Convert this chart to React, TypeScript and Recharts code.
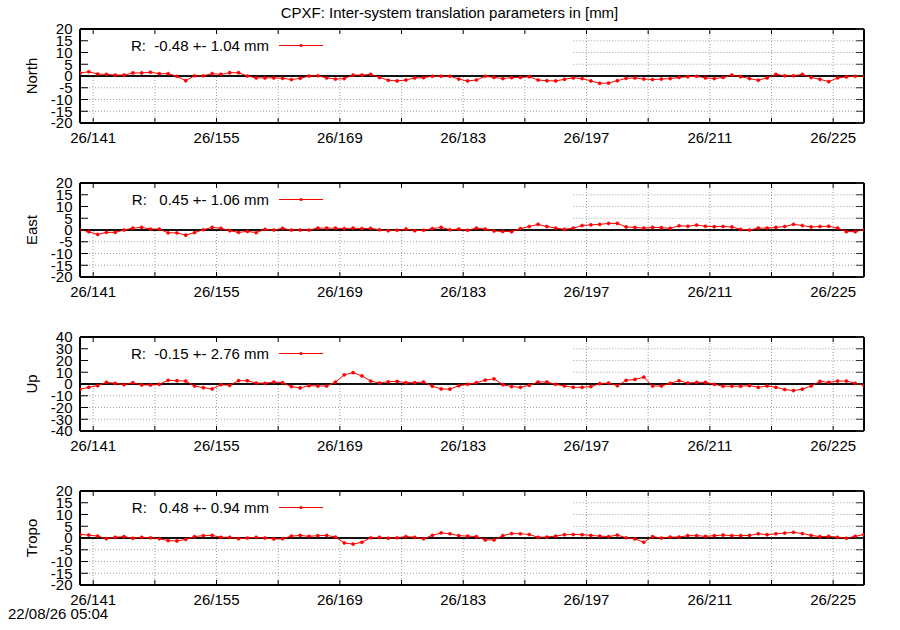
import React from 'react';
import { LineChart, Line, XAxis, YAxis, ReferenceLine, Legend } from 'recharts';

const FONT = '"Liberation Sans", Arial, Helvetica, sans-serif';
const RED = '#ff0000';
const GRID = '#a0a0a0';

// epochs (day of year, noon)
const DAYS = [
  139.5, 140.5, 141.5, 142.5, 143.5, 144.5, 145.5, 146.5, 147.5, 148.5,
  149.5, 150.5, 151.5, 152.5, 153.5, 154.5, 155.5, 156.5, 157.5, 158.5,
  159.5, 160.5, 161.5, 162.5, 163.5, 164.5, 165.5, 166.5, 167.5, 168.5,
  169.5, 170.5, 171.5, 172.5, 173.5, 174.5, 175.5, 176.5, 177.5, 178.5,
  179.5, 180.5, 181.5, 182.5, 183.5, 184.5, 185.5, 186.5, 187.5, 188.5,
  189.5, 190.5, 191.5, 192.5, 193.5, 194.5, 195.5, 196.5, 197.5, 198.5,
  199.5, 200.5, 201.5, 202.5, 203.5, 204.5, 205.5, 206.5, 207.5, 208.5,
  209.5, 210.5, 211.5, 212.5, 213.5, 214.5, 215.5, 216.5, 217.5, 218.5,
  219.5, 220.5, 221.5, 222.5, 223.5, 224.5, 225.5, 226.5, 227.5, 228.5,
];

const X_MIN = 139.5;
const X_MAX = 228.5;
const X_TICKS = [141, 148, 155, 162, 169, 176, 183, 190, 197, 204, 211, 218, 225];
const MAJOR_DAYS = [141, 155, 169, 183, 197, 211, 225];
const MAJOR_LABELS = ['26/141', '26/155', '26/169', '26/183', '26/197', '26/211', '26/225'];
const CLEAR_X = 195.5; // left part above zero is free of grid (key area)

const Y_TICKS_20 = [-20, -15, -10, -5, 0, 5, 10, 15, 20];
const Y_TICKS_40 = [-40, -30, -20, -10, 0, 10, 20, 30, 40];

const NORTH = [
  1.3, 1.8, 0.85, 0.7, 0.4, 0.4, 1.3, 1.3, 1.6, 1.0,
  1.0, -0.1, -2.0, 0.1, 0.1, 1.0, 0.7, 1.4, 1.4, 0.0,
  -0.8, -0.8, -0.8, -1.0, -1.5, -1.0, 0.0, 0.1, -0.8, -1.3,
  -1.1, 0.4, 0.4, 0.7, -0.6, -1.8, -2.1, -1.7, -0.8, -0.7,
  -0.1, -0.1, -0.1, -1.3, -2.1, -1.7, -0.1, -0.6, -1.1, -0.7,
  -0.6, -0.3, -1.7, -2.0, -2.1, -1.4, -0.8, -1.1, -2.1, -3.1,
  -3.0, -2.0, -1.0, -0.8, -1.3, -1.5, -1.3, -1.1, -0.6, -0.3,
  -0.1, -0.8, -1.1, -0.6, 0.4, -0.3, -1.1, -1.8, -0.8, 0.7,
  0.1, 0.1, 0.7, -0.6, -1.4, -2.4, -0.8, -0.4, -0.1, -0.1,
];

const EAST = [
  0.1, -0.7, -1.9, -1.0, -1.0, 0.0, 0.8, 1.1, 0.4, 0.4,
  -1.2, -1.2, -2.2, -1.1, 0.1, 1.1, 0.7, -0.3, -1.0, -0.6,
  -1.1, 0.3, 0.0, 0.7, 0.0, 0.0, 0.0, 0.8, 0.8, 0.8,
  0.6, 0.8, 0.6, 0.7, 0.1, -0.3, -0.1, 0.4, -0.3, -0.1,
  0.6, 1.1, 0.1, 0.4, -0.1, 0.8, 0.4, -0.4, -0.6, -0.7,
  0.6, 1.5, 2.4, 1.5, 0.8, 0.3, 0.8, 1.9, 2.2, 2.4,
  2.8, 2.8, 1.3, 1.1, 0.8, 1.1, 1.0, 0.7, 1.8, 1.6,
  2.1, 1.6, 1.4, 1.5, 1.3, 0.3, 0.0, 0.8, 0.8, 1.1,
  1.5, 2.4, 1.9, 1.3, 1.5, 1.6, 0.8, -0.7, -0.7, 0.1,
];

const UP = [
  -4.5, -2.8, -1.4, 1.4, 0.6, -0.6, 1.1, -0.8, -0.8, -0.3,
  3.1, 2.8, 2.5, -1.7, -3.1, -4.2, -0.6, -1.1, 2.8, 2.8,
  0.8, 0.6, 1.7, 1.1, -2.2, -3.3, -1.4, -1.7, -1.7, 1.7,
  7.8, 9.7, 6.9, 2.5, 0.8, 1.9, 2.2, 1.1, 1.1, 1.7,
  -1.9, -4.2, -4.4, -1.4, -0.3, 1.1, 3.3, 4.4, -0.6, -2.2,
  -2.8, -1.1, 1.7, 1.7, -0.3, -1.7, -2.8, -2.8, -2.2, 0.3,
  0.8, -1.4, 3.1, 3.9, 5.8, -1.7, -1.7, 0.6, 2.8, 0.8,
  1.4, 1.4, -0.3, -1.9, -1.9, -1.9, -1.4, -2.8, -1.7, -2.8,
  -4.7, -5.6, -4.4, -1.7, 2.2, 1.4, 2.5, 2.5, 0.6, -1.1,
];

const TROPO = [
  1.5, 1.25, 0.8, -0.3, 0.3, 0.6, -0.1, 0.3, 0.1, -0.3,
  -1.1, -1.25, -0.6, 0.6, 1.0, 1.1, 0.3, 0.3, -0.3, 0.0,
  0.3, 0.0, -0.4, -0.3, 0.8, 1.1, 0.7, 1.0, 1.1, 0.4,
  -2.1, -2.6, -1.8, 0.1, 0.3, -0.1, 0.1, 0.6, 0.3, -0.3,
  1.1, 2.2, 1.8, 1.0, 0.8, 0.6, -0.8, -0.8, 1.0, 1.9,
  1.8, 1.5, 0.3, 0.4, 0.8, 1.4, 1.5, 1.4, 1.1, 0.8,
  0.6, 1.25, 0.1, -0.4, -1.8, 0.6, 0.0, 0.4, 0.4, 1.0,
  1.0, 0.7, 1.0, 1.25, 1.0, 1.0, 1.1, 1.8, 1.4, 1.8,
  2.1, 2.4, 1.9, 1.1, 0.6, 0.7, 0.3, -0.1, 0.7, 1.5,
];

const PANEL_NAMES = ['North', 'East', 'Up', 'Tropo'];
const PANEL_STATS = [
  'R:  -0.48 +- 1.04 mm',
  'R:   0.45 +- 1.06 mm',
  'R:  -0.15 +- 2.76 mm',
  'R:   0.48 +- 0.94 mm',
];
const PANEL_VALUES = [NORTH, EAST, UP, TROPO];
const PANEL_TICKS = [Y_TICKS_20, Y_TICKS_20, Y_TICKS_40, Y_TICKS_20];
const PANEL_TOPS = [29, 183, 337, 491];

const TITLE = 'CPXF: Inter-system translation parameters in [mm]';
const STAMP = '22/08/26 05:04';

// layout of each panel chart
const CHART_W = 900;
const CHART_H = 154;
const PLOT_TOP = 10;
const PLOT_H = 94;
const PLOT_BOTTOM = PLOT_TOP + PLOT_H;
const PLOT_LEFT = 80;
const PLOT_RIGHT = 864;
const LEG_Y = 26.5;

const XTick = (props: any) => {
  const { x, payload } = props;
  const idx = MAJOR_DAYS.indexOf(payload.value);
  return (
    <g>
      <line x1={x} x2={x} y1={PLOT_BOTTOM} y2={PLOT_BOTTOM - 5} stroke="#000" strokeWidth={1} />
      <line x1={x} x2={x} y1={PLOT_TOP} y2={PLOT_TOP + 5} stroke="#000" strokeWidth={1} />
      {idx >= 0 && (
        <text x={x} y={PLOT_BOTTOM + 20} textAnchor="middle" fontSize={15} fontFamily={FONT} fill="#000">
          {MAJOR_LABELS[idx]}
        </text>
      )}
    </g>
  );
};

const YTick = (props: any) => {
  const { y, payload } = props;
  return (
    <g>
      <line x1={PLOT_LEFT} x2={PLOT_LEFT + 8} y1={y} y2={y} stroke="#000" strokeWidth={1} />
      <line x1={PLOT_RIGHT} x2={PLOT_RIGHT - 8} y1={y} y2={y} stroke="#333" strokeWidth={1} />
      <text x={72.5} y={y + 5.3} textAnchor="end" fontSize={15} fontFamily={FONT} fill="#000">
        {payload.value}
      </text>
    </g>
  );
};

const Panel = ({ index }: { index: number }) => {
  const name = PANEL_NAMES[index];
  const values = PANEL_VALUES[index];
  const ticks = PANEL_TICKS[index];
  const stat = PANEL_STATS[index];
  const yMin = ticks[0];
  const yMax = ticks[ticks.length - 1];
  const rows = DAYS.map((d, i) => ({ day: d, v: values[i] }));
  const hGrid = ticks.filter((t) => t !== yMin && t !== yMax && t !== 0);

  return (
    <div style={{ position: 'absolute', left: 0, top: PANEL_TOPS[index] - PLOT_TOP, width: CHART_W, height: CHART_H }}>
      <LineChart width={CHART_W} height={CHART_H} data={rows} margin={{ top: PLOT_TOP - 1, right: 0, bottom: 0, left: 0 }}>
        <XAxis
          dataKey="day"
          type="number"
          domain={[X_MIN, X_MAX]}
          ticks={X_TICKS}
          interval={0}
          allowDataOverflow
          height={CHART_H - PLOT_BOTTOM}
          axisLine={{ stroke: '#000', strokeWidth: 2 }}
          tickLine={false}
          tick={<XTick />}
        />
        <XAxis
          xAxisId="top"
          orientation="top"
          type="number"
          domain={[X_MIN, X_MAX]}
          height={1}
          axisLine={{ stroke: '#000', strokeWidth: 2 }}
          tickLine={false}
          tick={false}
        />
        <YAxis
          type="number"
          domain={[yMin, yMax]}
          ticks={ticks}
          interval={0}
          allowDataOverflow
          width={PLOT_LEFT}
          axisLine={{ stroke: '#000', strokeWidth: 2 }}
          tickLine={false}
          tick={<YTick />}
          label={{
            value: name,
            angle: -90,
            position: 'center',
            dx: -8,
            fontSize: 15,
            fill: '#000',
            fontFamily: FONT,
          }}
        />
        <YAxis
          yAxisId="right"
          orientation="right"
          type="number"
          domain={[yMin, yMax]}
          width={CHART_W - PLOT_RIGHT}
          axisLine={{ stroke: '#000', strokeWidth: 2 }}
          tickLine={false}
          tick={false}
        />
        {X_TICKS.map((d) =>
          d < CLEAR_X ? (
            <ReferenceLine
              key={'v' + d}
              segment={[{ x: d, y: yMin }, { x: d, y: 0 }]}
              stroke={GRID}
              strokeDasharray="1 2"
            />
          ) : (
            <ReferenceLine key={'v' + d} x={d} stroke={GRID} strokeDasharray="1 2" />
          )
        )}
        {hGrid.map((t) =>
          t < 0 ? (
            <ReferenceLine key={'h' + t} y={t} stroke={GRID} strokeDasharray="1 2" />
          ) : (
            <ReferenceLine
              key={'h' + t}
              segment={[{ x: CLEAR_X, y: t }, { x: X_MAX, y: t }]}
              stroke={GRID}
              strokeDasharray="1 2"
            />
          )
        )}
        <ReferenceLine y={0} stroke="#111" strokeWidth={1.8} />
        <Line
          type="linear"
          dataKey="v"
          stroke={RED}
          strokeWidth={1}
          dot={{ r: 1.6, fill: RED, stroke: RED, strokeWidth: 0.5 }}
          activeDot={false}
          isAnimationActive={false}
        />
        <Legend
          verticalAlign="middle"
          align="center"
          layout="horizontal"
          wrapperStyle={{ top: 0, left: 0, width: CHART_W, height: 40, margin: 0, padding: 0, pointerEvents: 'none' }}
          content={() => (
            <svg width={CHART_W} height={40} style={{ display: 'block', overflow: 'visible' }}>
              <text
                x={269}
                y={LEG_Y + 5.3}
                textAnchor="end"
                fontSize={15}
                fontFamily={FONT}
                fill="#000"
                xmlSpace="preserve"
                style={{ whiteSpace: 'pre' }}
              >
                {stat}
              </text>
              <line x1={279} x2={323} y1={LEG_Y} y2={LEG_Y} stroke={RED} strokeWidth={1} />
              <circle cx={301} cy={LEG_Y} r={1.6} fill={RED} />
            </svg>
          )}
        />
      </LineChart>
    </div>
  );
};

export default function App() {
  return (
    <div style={{ position: 'absolute', left: 0, top: 0, width: 900, height: 630, background: '#fff', overflow: 'hidden' }}>
      {PANEL_NAMES.map((_, i) => (
        <Panel key={i} index={i} />
      ))}
      <svg width={900} height={630} style={{ position: 'absolute', left: 0, top: 0, pointerEvents: 'none' }}>
        <text x={449.5} y={18} textAnchor="middle" fontSize={15} fontFamily={FONT} fill="#000">
          {TITLE}
        </text>
        <text x={8} y={619} fontSize={15} fontFamily={FONT} fill="#000">
          {STAMP}
        </text>
      </svg>
    </div>
  );
}
